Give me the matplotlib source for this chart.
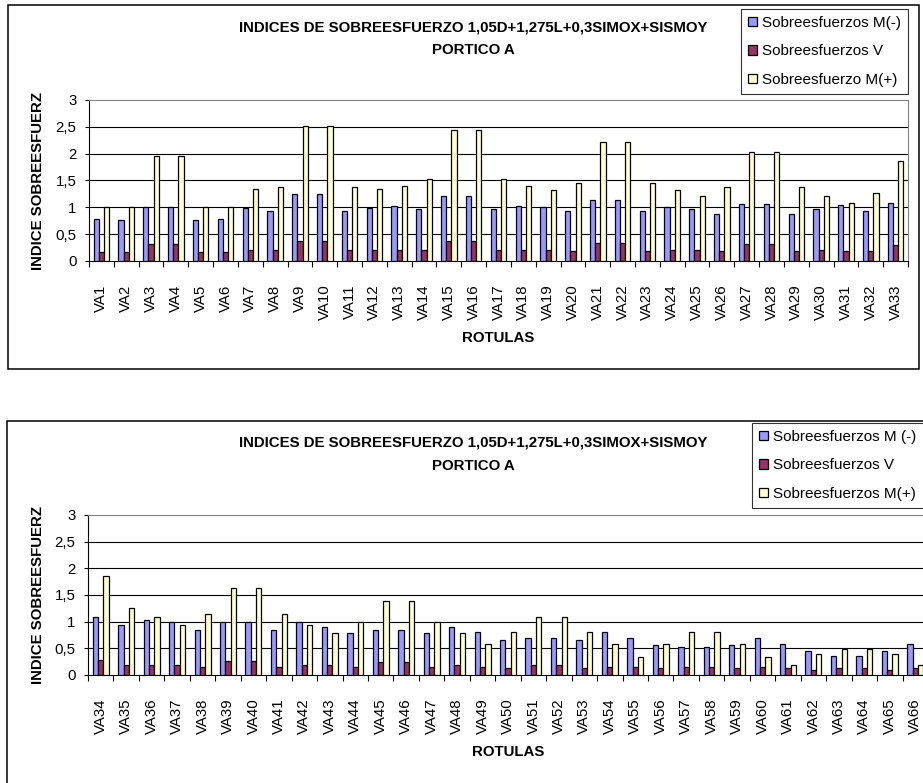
import matplotlib
matplotlib.use('Agg')
import matplotlib.pyplot as plt
import matplotlib.ticker as mticker
from matplotlib.patches import Rectangle
import numpy as np

plt.rcParams['font.family'] = ['Liberation Sans', 'DejaVu Sans']

W, H = 923, 783

# Portico A, rotulas VA1..VA33
top_labels = ['VA%d' % i for i in range(1, 34)]
top_m_neg = [0.79, 0.76, 1.01, 1.01, 0.76, 0.79, 0.98, 0.93, 1.25, 1.25, 0.93,
             0.98, 1.03, 0.96, 1.22, 1.22, 0.96, 1.03, 1.01, 0.93, 1.14, 1.14,
             0.93, 1.01, 0.96, 0.88, 1.06, 1.06, 0.88, 0.96, 1.04, 0.93, 1.09]
top_v = [0.17, 0.17, 0.32, 0.32, 0.17, 0.17, 0.20, 0.20, 0.37, 0.37, 0.20,
         0.20, 0.20, 0.20, 0.37, 0.37, 0.20, 0.20, 0.20, 0.18, 0.34, 0.34,
         0.18, 0.20, 0.20, 0.18, 0.32, 0.32, 0.18, 0.20, 0.18, 0.18, 0.29]
top_m_pos = [1.01, 1.01, 1.96, 1.96, 1.01, 1.01, 1.35, 1.38, 2.52, 2.52, 1.38,
             1.35, 1.40, 1.52, 2.44, 2.44, 1.52, 1.40, 1.33, 1.46, 2.22, 2.22,
             1.46, 1.33, 1.22, 1.38, 2.04, 2.04, 1.38, 1.22, 1.09, 1.27, 1.86]

# Portico A, rotulas VA34..VA66
bot_labels = ['VA%d' % i for i in range(34, 67)]
bot_m_neg = [1.09, 0.93, 1.04, 0.99, 0.85, 0.99, 0.99, 0.85, 0.99, 0.90, 0.78,
             0.85, 0.85, 0.78, 0.90, 0.80, 0.66, 0.69, 0.69, 0.66, 0.80, 0.69,
             0.56, 0.53, 0.53, 0.56, 0.69, 0.58, 0.45, 0.36, 0.36, 0.45, 0.58]
bot_v = [0.29, 0.18, 0.18, 0.18, 0.15, 0.26, 0.26, 0.15, 0.18, 0.18, 0.15,
         0.24, 0.24, 0.15, 0.18, 0.15, 0.13, 0.18, 0.18, 0.13, 0.15, 0.15,
         0.13, 0.15, 0.15, 0.13, 0.15, 0.13, 0.10, 0.13, 0.13, 0.10, 0.13]
bot_m_pos = [1.85, 1.25, 1.09, 0.93, 1.15, 1.63, 1.63, 1.15, 0.93, 0.78, 0.99,
             1.39, 1.39, 0.99, 0.78, 0.58, 0.80, 1.09, 1.09, 0.80, 0.58, 0.34,
             0.58, 0.80, 0.80, 0.58, 0.34, 0.18, 0.39, 0.48, 0.48, 0.39, 0.18]

title = 'INDICES DE SOBREESFUERZO 1,05D+1,275L+0,3SIMOX+SISMOY\nPORTICO A'
colors = ('#9999FF', '#993366', '#FFFFCC')
FS = 10.8


def fx(x):
    return x / W


def fy(y):
    return 1 - y / H


def draw_chart(fig, box, plot, labels, series, names, title_y, legend_xy, xlabel_y):
    # outer chart frame
    bx0, by0, bx1, by1 = box
    fig.patches.append(Rectangle((fx(bx0), fy(by1)), fx(bx1 - bx0), (by1 - by0) / H,
                                 transform=fig.transFigure, fill=False,
                                 edgecolor='black', linewidth=1.1, zorder=0))

    px0, py0, px1, py1 = plot
    ax = fig.add_axes([fx(px0), fy(py1), fx(px1 - px0), (py1 - py0) / H])

    x = np.arange(len(labels))
    w = 0.21
    bars = []
    for k, (vals, c) in enumerate(zip(series, colors)):
        b = ax.bar(x + (k - 1) * w, vals, w, color=c, edgecolor='black',
                   linewidth=0.9, zorder=3)
        bars.append(b)

    ax.set_xlim(-0.5, len(labels) - 0.5)
    ax.set_ylim(0, 3)
    ax.set_yticks(np.arange(0, 3.01, 0.5))
    ax.yaxis.set_major_formatter(mticker.FuncFormatter(
        lambda v, _: ('%g' % v).replace('.', ',')))
    for v in np.arange(0.5, 2.51, 0.5):
        ax.axhline(v, color='black', linewidth=0.8, zorder=1)

    # group boundaries carry the ticks, centres carry the labels
    ax.set_xticks(np.arange(-0.5, len(labels), 1.0))
    ax.set_xticklabels([])
    ax.set_xticks(x, minor=True)
    ax.set_xticklabels(labels, minor=True, rotation=90, fontsize=FS, va='top')
    ax.tick_params(axis='x', which='major', length=4, width=0.8, direction='out')
    ax.tick_params(axis='x', which='minor', length=0, pad=17)
    ax.tick_params(axis='y', length=3, width=0.8, pad=6, labelsize=FS)

    for s in ('top', 'right'):
        ax.spines[s].set_color('#808080')
        ax.spines[s].set_linewidth(0.8)
    for s in ('left', 'bottom'):
        ax.spines[s].set_linewidth(0.8)

    fig.text(fx(473), fy(title_y), title, ha='center', va='top',
             fontsize=FS, fontweight='bold', linespacing=1.85)
    fig.text(fx(38), fy((py0 + py1) / 2), 'INDICE SOBREESFUERZ', rotation=90,
             ha='center', va='center', fontsize=FS, fontweight='bold')
    fig.text(fx((px0 + px1) / 2), fy(xlabel_y), 'ROTULAS', ha='center',
             va='center', fontsize=FS, fontweight='bold')

    leg = fig.legend(bars, names, loc='upper left',
                     bbox_to_anchor=(fx(legend_xy[0]), fy(legend_xy[1])),
                     fontsize=11, frameon=True, fancybox=False, borderpad=0.45,
                     handlelength=0.6, handleheight=0.6, handletextpad=0.35,
                     labelspacing=0.95, borderaxespad=0)
    leg.get_frame().set_edgecolor('black')
    leg.get_frame().set_linewidth(0.8)
    return ax


fig = plt.figure(figsize=(W / 100, H / 100), dpi=100)

draw_chart(fig, (8, 5, 919, 369), (89, 100, 908, 261), top_labels,
           (top_m_neg, top_v, top_m_pos),
           ('Sobreesfuerzos M(-)', 'Sobreesfuerzos V', 'Sobreesfuerzo M(+)'),
           title_y=20, legend_xy=(741, 9), xlabel_y=338)

draw_chart(fig, (7, 421, 940, 800), (88, 515, 928, 675), bot_labels,
           (bot_m_neg, bot_v, bot_m_pos),
           ('Sobreesfuerzos M (-)', 'Sobreesfuerzos V', 'Sobreesfuerzos M(+)'),
           title_y=436, legend_xy=(752, 423), xlabel_y=752)

fig.savefig('out.png', dpi=100)
